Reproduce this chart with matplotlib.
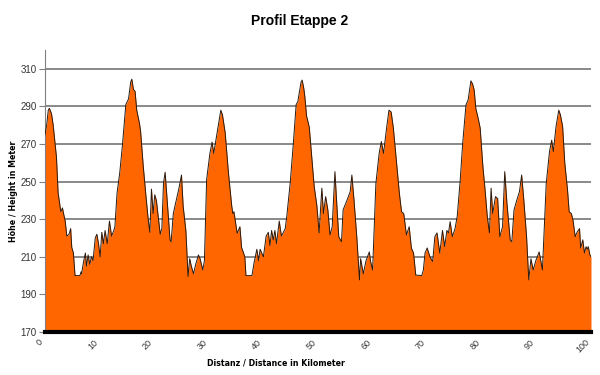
import matplotlib
matplotlib.use('Agg')
import matplotlib.pyplot as plt

# Elevation profile (km, metres)
distance_km = [
    0.0, 0.3, 0.6, 0.8, 1.2, 1.5, 2.1, 2.4, 2.9, 3.2, 3.4, 3.7, 4.0, 4.4, 4.7, 4.9,
    5.2, 5.5, 6.4, 6.6, 6.7, 7.1, 7.4, 7.6, 7.9, 8.2, 8.5, 8.8, 9.2, 9.5, 9.8, 10.1,
    10.4, 10.7, 11.0, 11.4, 11.8, 12.2, 12.6, 12.8, 13.2, 13.7, 14.2, 14.8, 15.3, 15.7,
    15.9, 16.2, 16.5, 16.8, 17.3, 17.5, 18.0, 18.5, 18.9, 19.2, 19.5, 19.8, 20.1, 20.4,
    20.8, 21.1, 21.4, 21.7, 22.0, 22.4, 22.9, 23.1, 23.5, 23.8, 24.2, 24.5, 25.0, 25.3,
    25.8, 26.2, 26.5, 26.8, 27.2, 27.6, 28.1, 28.4, 28.9, 29.2, 29.6, 30.2, 30.6, 30.9,
    31.6, 32.2, 32.5, 33.0, 33.6, 34.2, 34.4, 34.6, 35.2, 35.7, 36.0, 36.6, 36.8, 37.9,
    38.3, 38.8, 39.1, 39.4, 40.0, 40.5, 40.9, 41.2, 41.5, 41.8, 42.1, 42.4, 42.9, 43.3,
    44.0, 44.3, 44.9, 45.5, 46.0, 46.3, 46.9, 47.1, 47.4, 47.6, 47.9, 48.4, 48.8, 49.3,
    49.8, 50.2, 50.7, 51.0, 51.4, 51.8, 52.2, 52.6, 53.1, 53.4, 53.8, 54.3, 54.6, 55.3,
    55.9, 56.2, 56.6, 57.1, 57.6, 57.8, 58.3, 58.8, 59.4, 59.6, 60.0, 60.6, 61.2, 61.6,
    62.0, 62.6, 63.0, 63.4, 63.8, 64.3, 64.9, 65.3, 65.7, 66.2, 66.7, 67.1, 67.5, 67.9,
    69.0, 69.3, 69.6, 70.0, 70.5, 71.0, 71.4, 71.8, 72.3, 72.8, 73.2, 73.6, 73.9, 74.2,
    74.6, 75.1, 75.5, 76.0, 76.5, 77.1, 77.5, 78.0, 78.3, 78.6, 78.9, 79.4, 79.7, 80.2,
    80.6, 81.0, 81.4, 81.7, 82.0, 82.5, 82.9, 83.3, 83.8, 84.2, 84.6, 85.2, 85.5, 85.9,
    86.4, 86.9, 87.3, 87.7, 88.2, 88.6, 89.0, 89.4, 89.9, 90.5, 90.8, 91.1, 91.8, 92.4,
    92.8, 93.1, 93.6, 94.1, 94.4, 94.8, 95.2, 95.7, 96.0, 96.4, 96.7, 97.1, 97.5, 97.9,
    98.1, 98.5, 98.8, 99.1, 99.3, 99.5, 99.8, 100.0,
]
elevation_m = [
    275, 280, 288, 289, 286, 280, 263, 244, 234, 236, 233, 229, 221, 222, 225, 215,
    212, 200, 200, 202, 201, 208, 212, 205, 211, 206, 210, 208, 220, 222, 217, 210,
    223, 217, 224, 217, 229, 221, 224, 226, 244, 255, 270, 291, 294, 303,
    304.5, 299, 298, 288, 281, 277, 258, 242, 230, 223, 246, 233, 243, 240,
    230, 222, 225, 249, 255, 239, 219, 218, 233, 237, 242, 246, 253.5, 237,
    224, 199.5, 209, 205, 201, 206, 211, 209, 203, 208, 251, 265, 271, 265,
    277.5, 288, 285.5, 276, 254.5, 237, 233, 234, 222.5, 226, 215, 210, 200, 200,
    207, 214, 208, 214, 210, 221, 223, 216, 224, 219, 224, 217, 229, 221,
    225, 232, 249, 271, 291, 292.5, 303, 304, 299.5, 295, 285, 279, 265, 247.5,
    237, 222.7, 246.5, 233, 242, 235, 221.6, 226, 255.3, 240, 220.7, 218, 235, 240,
    244.7, 253.5, 240, 220.7, 197.7, 209, 201, 208, 212.6, 208, 203, 249, 265, 271.3,
    265, 279.4, 288, 287, 278.5, 263, 243.8, 234, 233, 221.6, 226, 214.7, 212, 200.3,
    200, 203, 212, 214.7, 210, 207.5, 220.7, 222.7, 212, 224, 215.4, 224, 222.7, 228.7,
    220.7, 225, 231.6, 249, 270.4, 290.8, 293.5, 303.6, 302, 298.8, 289, 282.8, 278.5, 258,
    245.6, 231.6, 222.7, 246.5, 233, 242, 241, 220.7, 226, 255.3, 238.6, 219, 218, 235,
    240, 244.7, 253.5, 240, 220.7, 197.7, 209, 203, 208, 212.6, 208, 203, 249, 266,
    272, 266, 279.4, 288, 285.5, 279.4, 259.8, 245.6, 234, 233, 229.6, 220.7, 223.4, 225,
    214.7, 219, 212, 215.4, 214, 215.4, 211, 210,
]
y_ticks = [170, 190, 210, 230, 250, 270, 290, 310]
x_ticks = [0, 10, 20, 30, 40, 50, 60, 70, 80, 90, 100]

plt.rcParams['font.family'] = ['Liberation Sans', 'DejaVu Sans']

fig = plt.figure(figsize=(6, 3.75), dpi=100)
ax = fig.add_axes([0.075, 0.1147, 0.91, 0.752])

ax.fill_between(distance_km, 170, elevation_m, color='#FF6600', linewidth=0, zorder=2)
ax.plot(distance_km, elevation_m, color='#2a1a10', linewidth=0.7, zorder=3)

ax.set_xlim(0, 100)
ax.set_ylim(170, 320)
ax.set_yticks(y_ticks)
ax.set_xticks(x_ticks)
ax.set_xticklabels([str(v) for v in x_ticks], rotation=45, ha='right', va='top')

ax.set_axisbelow(True)
ax.yaxis.grid(True, color='#808080', linewidth=1.3)
ax.xaxis.grid(False)

for side in ('top', 'right'):
    ax.spines[side].set_visible(False)
ax.spines['left'].set_color('#808080')
ax.spines['bottom'].set_color('black')
ax.spines['bottom'].set_linewidth(3)
ax.spines['bottom'].set_zorder(4)

ax.tick_params(axis='y', labelsize=7, length=4, color='#808080', pad=2, labelcolor='#333333')
ax.tick_params(axis='x', labelsize=6.5, length=0, pad=4, labelcolor='#333333')

# condensed bold for the axis titles
ax.set_xlabel('Distanz / Distance in Kilometer', fontsize=6.3, fontweight='bold',
              family='DejaVu Sans', fontstretch='condensed')
ax.xaxis.set_label_coords((276 - 45) / 546, -0.095)
ax.set_ylabel('Höhe / Height in Meter', fontsize=6.3, fontweight='bold',
              family='DejaVu Sans', fontstretch='condensed')
ax.yaxis.set_label_coords(-0.05, 0.5)

fig.text(0.5, 0.945, 'Profil Etappe 2', ha='center', va='center', fontsize=10, fontweight='bold')

fig.savefig('out.png', dpi=100)
